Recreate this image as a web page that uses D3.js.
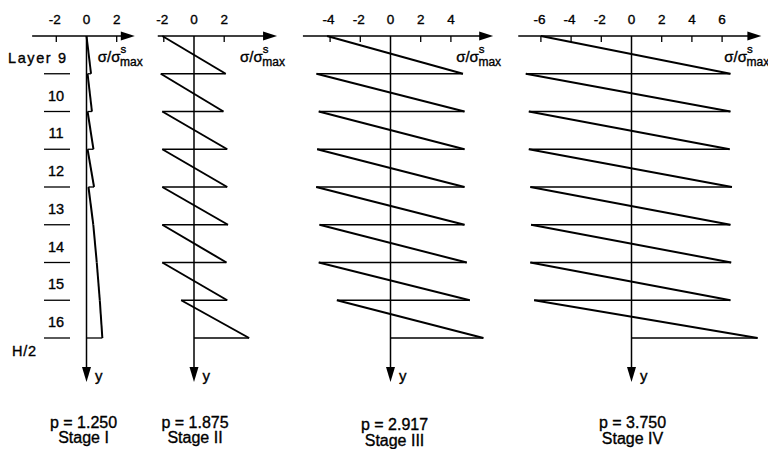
<!DOCTYPE html>
<html><head><meta charset="utf-8">
<script src="https://cdn.jsdelivr.net/npm/d3@7"></script>
<style>
html,body{margin:0;padding:0;background:#fff;}
svg{display:block;}
text{font-family:"Liberation Sans",Arial,Helvetica,sans-serif;fill:#000;stroke:#000;stroke-width:0.35px;}
</style></head><body>
<svg id="chart" width="768" height="449"></svg>
<script>
// Layers through the half-thickness, from the top layer down to the mid-plane
const layers = ["9", "10", "11", "12", "13", "14", "15", "16"];

// Normalised stress σ/σ^s_max at the top and at the bottom of each layer
const stageITop      = [0.00, 0.07, 0.07, 0.07, 0.13, 0.45, 0.68, 0.88];
const stageIBottom   = [0.30, 0.36, 0.46, 0.50, 0.45, 0.68, 0.88, 1.05];
const stageIITop     = [-2.10, -2.20, -2.10, -2.10, -2.10, -2.10, -2.10, -0.85];
const stageIIBottom  = [2.10, 1.95, 2.20, 2.20, 2.25, 2.15, 2.20, 3.65];
const stageIIITop    = [-4.20, -4.90, -4.75, -4.86, -4.92, -4.70, -4.75, -3.55];
const stageIIIBottom = [4.80, 4.90, 4.90, 4.90, 4.90, 5.05, 5.25, 6.15];
const stageIVTop     = [-6.00, -7.00, -6.80, -6.80, -6.70, -6.65, -6.70, -6.45];
const stageIVBottom  = [6.55, 6.55, 6.50, 6.65, 6.55, 6.60, 6.55, 8.35];

// Tick values on each stress axis
const ticksI   = [-2, 0, 2];
const ticksII  = [-2, 0, 2];
const ticksIII = [-4, -2, 0, 2, 4];
const ticksIV  = [-6, -4, -2, 0, 2, 4, 6];

// Load level and stage name under each panel
const loadLevels = ["1.250", "1.875", "2.917", "3.750"];
const stageNames = ["Stage I", "Stage II", "Stage III", "Stage IV"];

// ---- layout -------------------------------------------------------------
const K = 15.1;                 // pixels per unit of σ/σ^s_max
const axisY = 36, midY = 338;   // top surface and mid-plane (H/2)
const arrowTipY = 382;
const panels = [
  {zero: 86.5,  ext: [-3.6, 3.2], ticks: ticksI,   top: stageITop,   bottom: stageIBottom,   capDx: -3, capY: 427.5},
  {zero: 194,   ext: [-2.4, 5.5], ticks: ticksII,  top: stageIITop,  bottom: stageIIBottom,  capDx: 1,  capY: 427.5},
  {zero: 390.5, ext: [-5.8, 6.8], ticks: ticksIII, top: stageIIITop, bottom: stageIIIBottom, capDx: 4,  capY: 430},
  {zero: 631.5, ext: [-7.5, 8.6], ticks: ticksIV,  top: stageIVTop,  bottom: stageIVBottom,  capDx: 1,  capY: 428}
];

const svg = d3.select("#chart");
const y = d3.scaleLinear().domain([0, layers.length]).range([axisY, midY]);

// Layer boundaries and labels on the left
const left = svg.append("g");
left.selectAll("line.bound")
  .data(d3.range(1, layers.length + 1))
  .join("line")
  .attr("x1", 44).attr("x2", 70)
  .attr("y1", d => y(d)).attr("y2", d => y(d))
  .attr("stroke", "#000").attr("stroke-width", 1.3);

left.selectAll("text.layer")
  .data(layers)
  .join("text")
  .attr("class", "layer")
  .attr("x", (d, i) => i === 0 ? 8 : 56)
  .attr("y", (d, i) => y(i + 0.5) + 8)
  .attr("text-anchor", (d, i) => i === 0 ? "start" : "middle")
  .attr("font-size", 14.5)
  .attr("letter-spacing", (d, i) => i === 0 ? 1.6 : 0)
  .text((d, i) => i === 0 ? "Layer " + d : d);

left.append("text")
  .attr("x", 12).attr("y", y(layers.length) + 18)
  .attr("font-size", 14.5).attr("letter-spacing", 0.8)
  .text("H/2");

const line = d3.line();

panels.forEach((p, k) => {
  const x = d3.scaleLinear()
    .domain(p.ext)
    .range([p.zero + p.ext[0] * K, p.zero + p.ext[1] * K]);
  const g = svg.append("g");
  const x0 = x(0);
  const xEnd = x(p.ext[1]);

  // stress axis with arrowhead
  g.append("line")
    .attr("x1", x(p.ext[0])).attr("x2", xEnd - 6)
    .attr("y1", axisY).attr("y2", axisY)
    .attr("stroke", "#000").attr("stroke-width", 1.5);
  g.append("path")
    .attr("d", `M${xEnd},${axisY} L${xEnd - 14},${axisY - 4.5} L${xEnd - 14},${axisY + 4.5} Z`)
    .attr("fill", "#000");

  // ticks below the axis, labels above
  g.selectAll("line.tick")
    .data(p.ticks.filter(t => t !== 0))
    .join("line")
    .attr("x1", d => x(d)).attr("x2", d => x(d))
    .attr("y1", axisY).attr("y2", axisY + 6)
    .attr("stroke", "#000").attr("stroke-width", 1.3);
  g.selectAll("text.tick")
    .data(p.ticks)
    .join("text")
    .attr("x", d => x(d) + (d < 0 ? -1.5 : 0))
    .attr("y", 24)
    .attr("text-anchor", "middle")
    .attr("font-size", 13.5)
    .text(d => String(d));

  // axis title σ/σ^s_max
  const t = g.append("text")
    .attr("x", xEnd - 37).attr("y", 62)
    .attr("font-size", 15);
  t.append("tspan").text("σ/σ");
  t.append("tspan").attr("font-size", 11.5).attr("dy", -9).text("s");
  t.append("tspan").attr("font-size", 12).attr("dx", -6.2).attr("dy", 12.5).text("max");

  // through-thickness axis with arrowhead
  g.append("line")
    .attr("x1", x0).attr("x2", x0)
    .attr("y1", axisY).attr("y2", arrowTipY - 6)
    .attr("stroke", "#000").attr("stroke-width", 1.5);
  g.append("path")
    .attr("d", `M${x0},${arrowTipY} L${x0 - 4.5},${arrowTipY - 15} L${x0 + 4.5},${arrowTipY - 15} Z`)
    .attr("fill", "#000");
  g.append("text")
    .attr("x", x0 + 8.5).attr("y", arrowTipY - 1)
    .attr("font-size", 15)
    .text("y");

  // stress profile: linear within each layer, jumps at the interfaces
  const n = layers.length;
  const diagonals = d3.range(n).map(i => [[x(p.top[i]), y(i)], [x(p.bottom[i]), y(i + 1)]]);
  const jumps = d3.range(n).map(i => [[x(p.bottom[i]), y(i + 1)], [x(i + 1 < n ? p.top[i + 1] : 0), y(i + 1)]]);

  g.selectAll("path.jump")
    .data(jumps)
    .join("path")
    .attr("d", line)
    .attr("fill", "none").attr("stroke", "#000").attr("stroke-width", 1.3);
  g.selectAll("path.diag")
    .data(diagonals)
    .join("path")
    .attr("d", line)
    .attr("fill", "none").attr("stroke", "#000").attr("stroke-width", 2)
    .attr("stroke-linejoin", "miter");

  // caption
  const cx = x0 + p.capDx;
  g.append("text")
    .attr("x", cx).attr("y", p.capY)
    .attr("text-anchor", "middle").attr("font-size", 16)
    .text("p = " + loadLevels[k]);
  g.append("text")
    .attr("x", cx).attr("y", p.capY + 15.5)
    .attr("text-anchor", "middle").attr("font-size", 16)
    .text(stageNames[k]);
});
</script>
</body></html>
